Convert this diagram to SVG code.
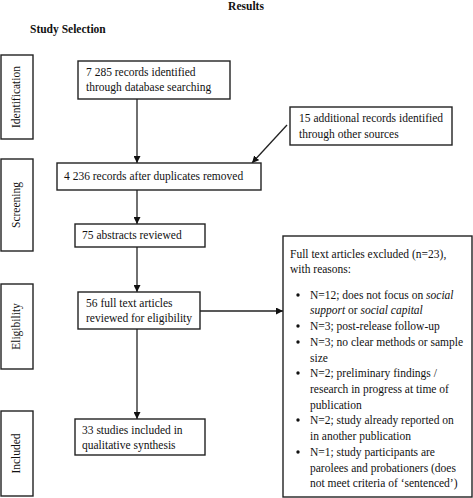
<svg xmlns="http://www.w3.org/2000/svg" width="473" height="498" viewBox="0 0 473 498">
<defs>
<style>
text{font-family:"Liberation Serif","Times New Roman",serif;font-size:11.5px;fill:#111}
.b{font-weight:bold}
.box{fill:#fff;stroke:#222;stroke-width:1.4}
.ln{stroke:#222;stroke-width:1.3;fill:none}
.side{text-anchor:middle}
</style>
<marker id="ah" viewBox="0 0 10 10" refX="10" refY="5" markerWidth="7" markerHeight="7" markerUnits="userSpaceOnUse" orient="auto">
<path d="M0,0 L10,5 L0,10 z" fill="#111"/>
</marker>
</defs>
<rect width="473" height="498" fill="#fff"/>
<text class="b" x="246" y="10" text-anchor="middle">Results</text>
<text class="b" x="30" y="33">Study Selection</text>

<g id="stage-identification"><rect class="box" x="1" y="55" width="32" height="84"/><text class="side" transform="translate(20,97) rotate(-90)">Identification</text></g>
<g id="stage-screening"><rect class="box" x="1" y="159" width="32" height="92"/><text class="side" transform="translate(20,205) rotate(-90)">Screening</text></g>
<g id="stage-eligibility"><rect class="box" x="1" y="284" width="32" height="85"/><text class="side" transform="translate(20,326.5) rotate(-90)">Eligibility</text></g>
<g id="stage-included"><rect class="box" x="1" y="411" width="32" height="85"/><text class="side" transform="translate(20,453.5) rotate(-90)">Included</text></g>

<g id="connectors">
<line class="ln" x1="137" y1="99" x2="137" y2="163" marker-end="url(#ah)"/>
<line class="ln" x1="287" y1="125" x2="252" y2="163" marker-end="url(#ah)"/>
<line class="ln" x1="137" y1="190" x2="137" y2="224" marker-end="url(#ah)"/>
<line class="ln" x1="137" y1="247" x2="137" y2="292" marker-end="url(#ah)"/>
<line class="ln" x1="137" y1="329" x2="137" y2="419" marker-end="url(#ah)"/>
<line class="ln" x1="200" y1="311" x2="283" y2="311" marker-end="url(#ah)"/>
</g>

<g id="n-database"><rect class="box" x="78" y="61" width="152" height="38"/><text x="86" y="76">7 285 records identified</text><text x="86" y="91">through database searching</text></g>
<g id="n-other"><rect class="box" x="290" y="107" width="162" height="38"/><text x="299" y="122">15 additional records identified</text><text x="299" y="138">through other sources</text></g>
<g id="n-duplicates"><rect class="box" x="57" y="163" width="204" height="27"/><text x="64" y="180">4 236 records after duplicates removed</text></g>
<g id="n-abstracts"><rect class="box" x="75" y="224" width="130" height="23"/><text x="82" y="239">75 abstracts reviewed</text></g>
<g id="n-fulltext"><rect class="box" x="78" y="292" width="122" height="37"/><text x="86" y="307">56 full text articles</text><text x="86" y="322">reviewed for eligibility</text></g>
<g id="n-included"><rect class="box" x="75" y="419" width="130" height="36"/><text x="82" y="434">33 studies included in</text><text x="82" y="449">qualitative synthesis</text></g>

<g id="n-excluded"><rect class="box" x="283" y="236" width="189" height="261"/>
<text x="290" y="258">Full text articles excluded (n=23),</text>
<text x="290" y="273">with reasons:</text>
<g fill="#111"><circle cx="298" cy="295" r="1.7"/><circle cx="298" cy="326" r="1.7"/><circle cx="298" cy="342" r="1.7"/><circle cx="298" cy="373" r="1.7"/><circle cx="298" cy="420" r="1.7"/><circle cx="298" cy="452" r="1.7"/></g>
<text x="310" y="299">N=12; does not focus on <tspan font-style="italic">social</tspan></text>
<text x="310" y="314"><tspan font-style="italic">support</tspan> or <tspan font-style="italic">social capital</tspan></text>
<text x="310" y="330">N=3; post-release follow-up</text>
<text x="310" y="346">N=3; no clear methods or sample</text>
<text x="310" y="362">size</text>
<text x="310" y="377">N=2; preliminary findings /</text>
<text x="310" y="393">research in progress at time of</text>
<text x="310" y="409">publication</text>
<text x="310" y="424">N=2; study already reported on</text>
<text x="310" y="440">in another publication</text>
<text x="310" y="456">N=1; study participants are</text>
<text x="310" y="472">parolees and probationers (does</text>
<text x="310" y="487">not meet criteria of ‘sentenced’)</text>
</g>
</svg>
